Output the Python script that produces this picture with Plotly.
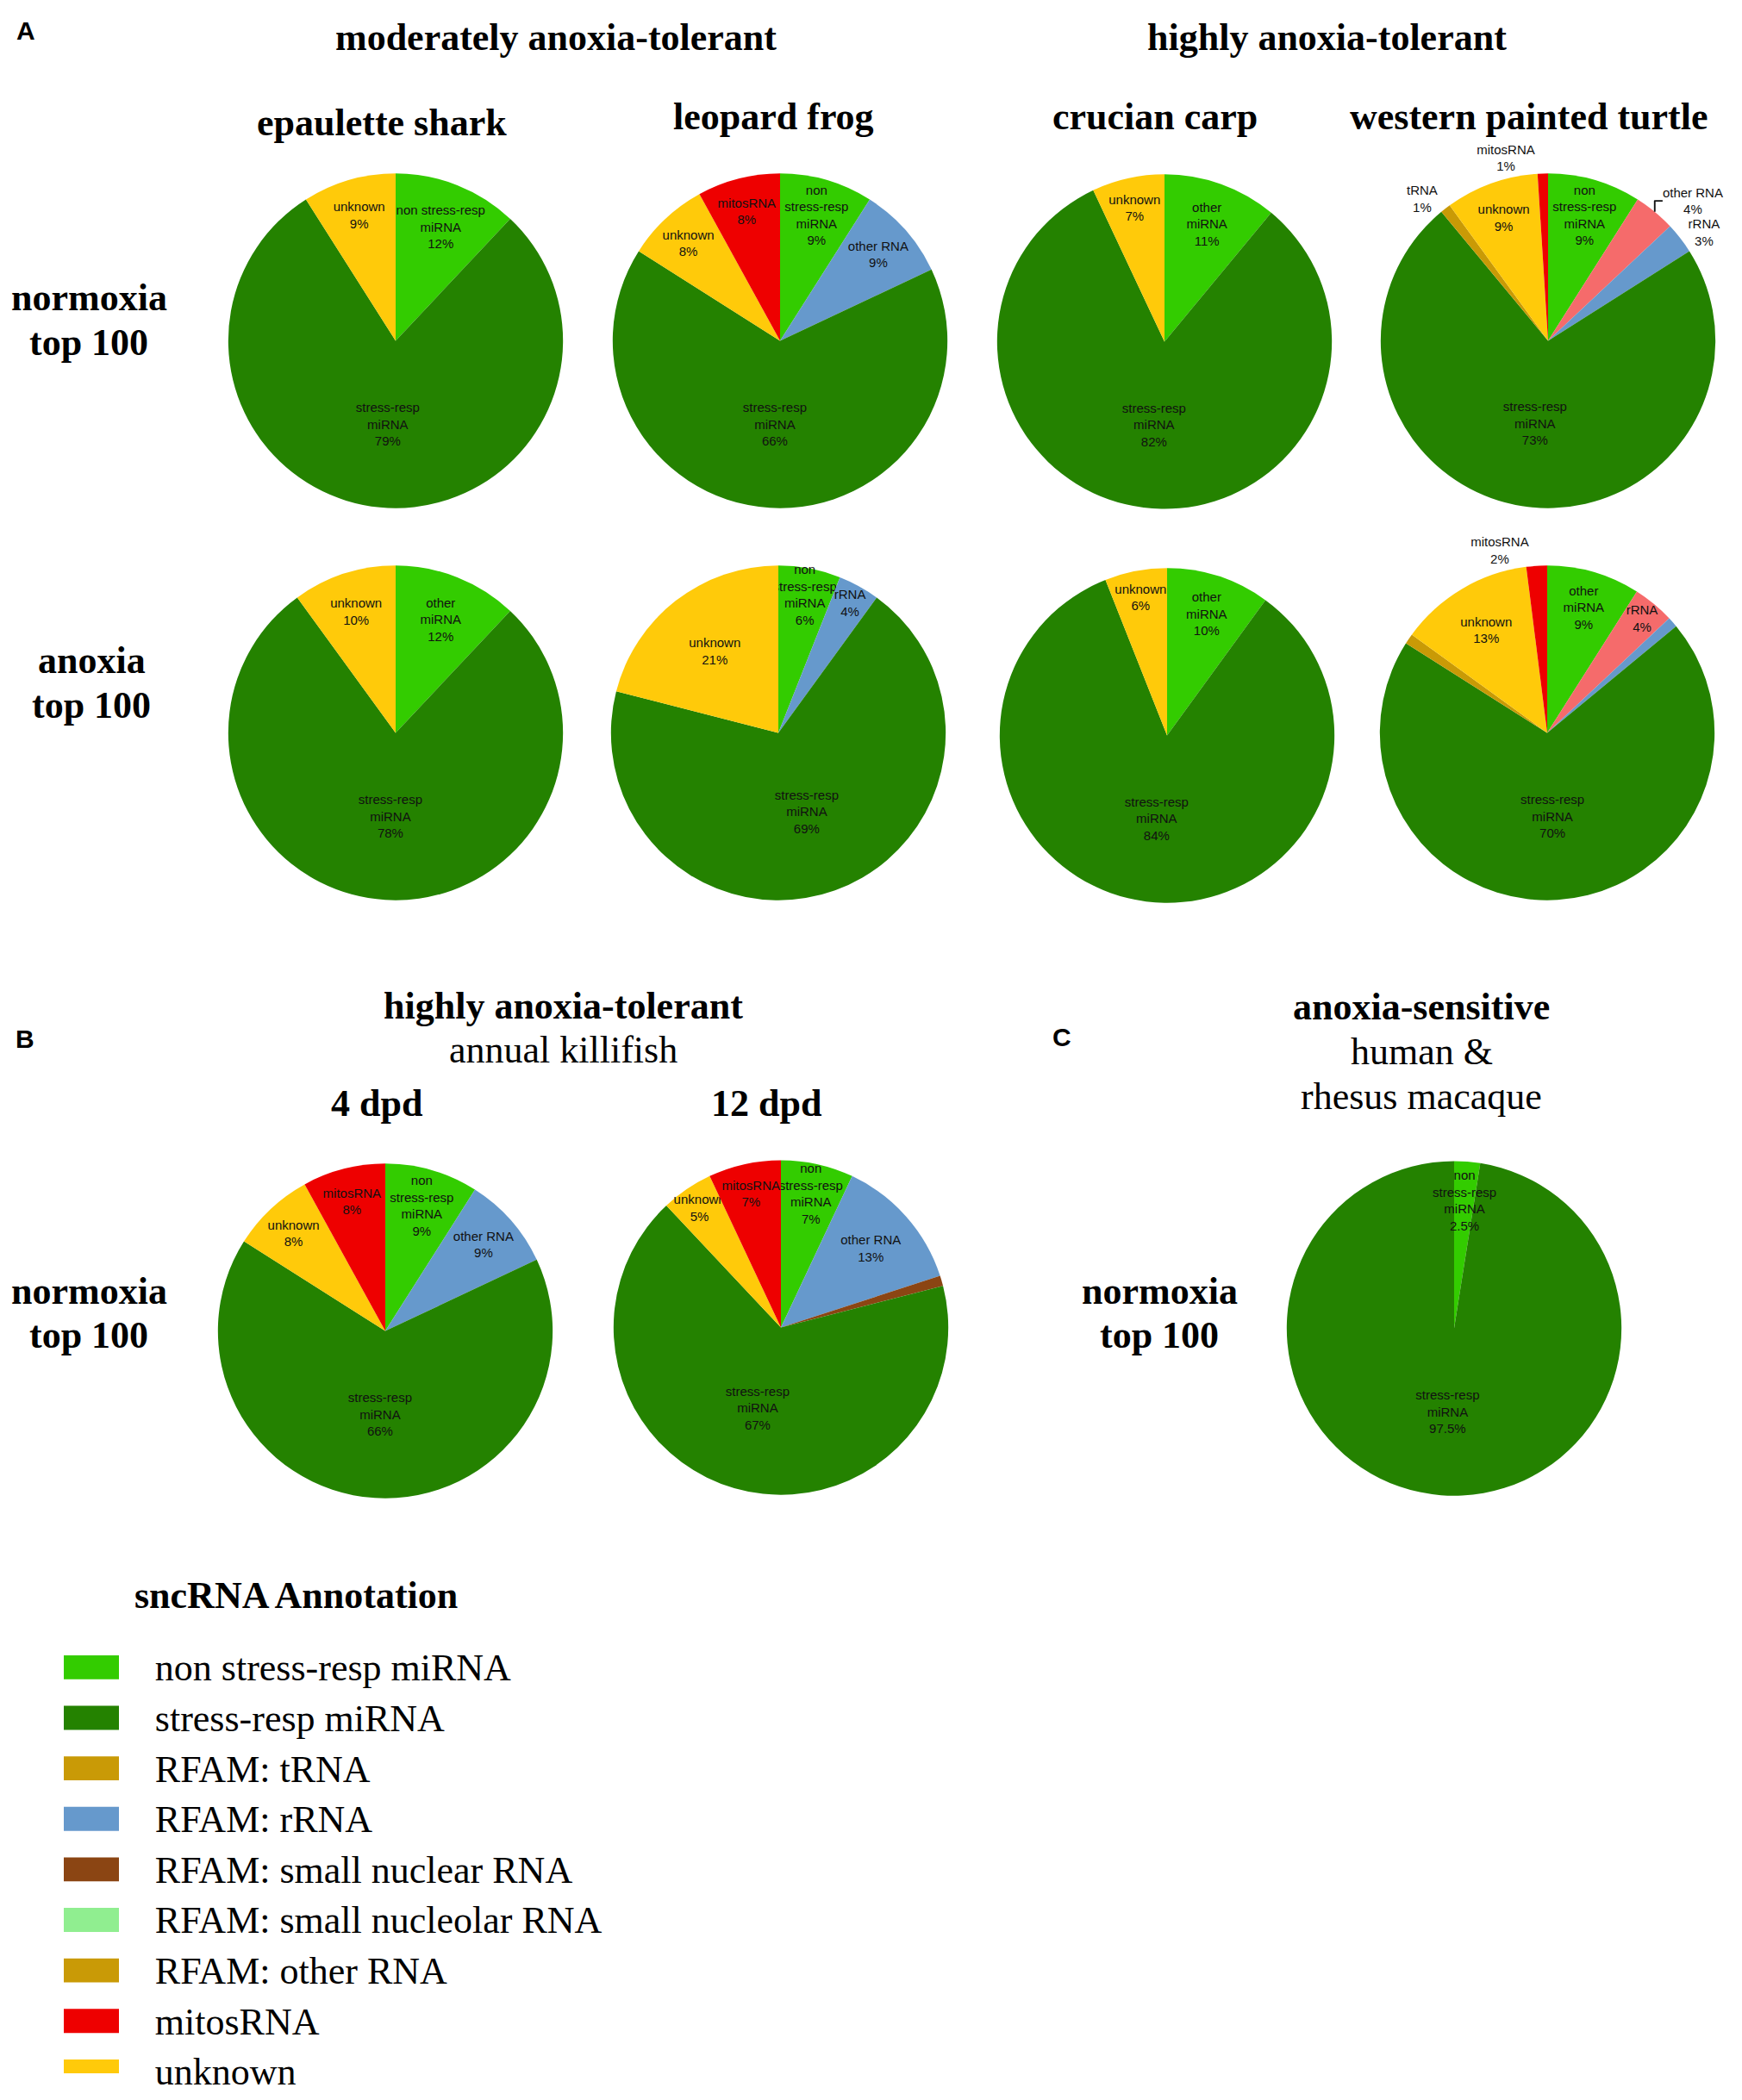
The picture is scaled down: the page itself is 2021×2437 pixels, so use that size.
import math
import plotly.graph_objects as go

# target page size; the html body keeps its default 8px margin
W, H = 2021, 2437
PAD = 8
FW, FH = W - 2 * PAD, H - 2 * PAD
# measured vertical drift of the rendered page (rendered ~ 8 + 0.991 * layout)
Y_OFF, Y_SCALE = 8, 0.991

# slice colours as they appear in the pies
LIGHT = "#33CC00"
DARK = "#248200"
GOLD = "#C99A06"
BLUE = "#6699CC"
BROWN = "#8B4513"
PALE = "#90EE90"
RED = "#EE0000"
YELLOW = "#FFCA0A"
PINK = "#F56B6B"

STRESS = "stress-resp<br>miRNA"
NON3 = "non<br>stress-resp<br>miRNA"

# panel A
shark_norm_values = [12, 79, 9]
shark_norm_names = ["non stress-resp<br>miRNA", STRESS, "unknown"]
shark_norm_colors = [LIGHT, DARK, YELLOW]

shark_anox_values = [12, 78, 10]
shark_anox_names = ["other<br>miRNA", STRESS, "unknown"]
shark_anox_colors = [LIGHT, DARK, YELLOW]

frog_norm_values = [9, 9, 66, 8, 8]
frog_norm_names = [NON3, "other RNA", STRESS, "unknown", "mitosRNA"]
frog_norm_colors = [LIGHT, BLUE, DARK, YELLOW, RED]

frog_anox_values = [6, 4, 69, 21]
frog_anox_names = [NON3, "rRNA", STRESS, "unknown"]
frog_anox_colors = [LIGHT, BLUE, DARK, YELLOW]

carp_norm_values = [11, 82, 7]
carp_norm_names = ["other<br>miRNA", STRESS, "unknown"]
carp_norm_colors = [LIGHT, DARK, YELLOW]

carp_anox_values = [10, 84, 6]
carp_anox_names = ["other<br>miRNA", STRESS, "unknown"]
carp_anox_colors = [LIGHT, DARK, YELLOW]

turtle_norm_values = [9, 4, 3, 73, 1, 9, 1]
turtle_norm_names = [NON3, "other RNA", "rRNA", STRESS, "tRNA", "unknown", "mitosRNA"]
turtle_norm_colors = [LIGHT, PINK, BLUE, DARK, GOLD, YELLOW, RED]

turtle_anox_values = [9, 4, 1, 70, 1, 13, 2]
turtle_anox_names = ["other<br>miRNA", "rRNA", "", STRESS, "", "unknown", "mitosRNA"]
turtle_anox_colors = [LIGHT, PINK, BLUE, DARK, GOLD, YELLOW, RED]

# panel B (annual killifish)
kf4_values = [9, 9, 66, 8, 8]
kf4_names = [NON3, "other RNA", STRESS, "unknown", "mitosRNA"]
kf4_colors = [LIGHT, BLUE, DARK, YELLOW, RED]

kf12_values = [7, 13, 1, 67, 5, 7]
kf12_names = [NON3, "other RNA", "", STRESS, "unknown", "mitosRNA"]
kf12_colors = [LIGHT, BLUE, BROWN, DARK, YELLOW, RED]

# panel C (human & rhesus macaque)
human_values = [2.5, 97.5]
human_names = [NON3, STRESS]
human_colors = [LIGHT, DARK]

legend_labels = [
    "non stress-resp miRNA", "stress-resp miRNA", "RFAM: tRNA", "RFAM: rRNA",
    "RFAM: small nuclear RNA", "RFAM: small nucleolar RNA", "RFAM: other RNA",
    "mitosRNA", "unknown",
]
legend_colors = [LIGHT, DARK, GOLD, BLUE, BROWN, PALE, GOLD, RED, YELLOW]

SERIF = "Liberation Serif, Times New Roman, serif"
SANS = "Liberation Sans, Arial, sans-serif"
R = 195


def xp(x):
    return (x - PAD) / FW


def yp(y):
    y = (y - Y_OFF) / Y_SCALE
    return min(1.0, 1 - (y - PAD) / FH)


fig = go.Figure()
anns = []


def add_pie(values, names, colors, cx, cy, outside=(), floating=()):
    # slices listed in `floating` get their label as an annotation placed
    # at the slice's mid angle (a narrow slice otherwise pushes it off the pie)
    text = []
    for i, (n, v) in enumerate(zip(names, values)):
        t = f"{n}<br>{v:g}%" if n else ""
        if i in floating:
            start = sum(values[:i]) / sum(values)
            mid = (start + v / sum(values) / 2) * 2 * math.pi
            anns.append(dict(
                x=xp(cx + 0.77 * R * math.sin(mid)), y=yp(cy - 0.77 * R * math.cos(mid)),
                xref="paper", yref="paper", showarrow=False, text=t,
                font=dict(family=SANS, size=15, color="#111111"),
                xanchor="center", yanchor="middle",
            ))
            t = ""
        text.append(t)
    pos = ["outside" if i in outside else "inside" for i in range(len(values))]
    fig.add_trace(go.Pie(
        values=values, text=text, textinfo="text", textposition=pos,
        marker=dict(colors=colors, line=dict(width=0)),
        sort=False, direction="clockwise", rotation=0,
        insidetextorientation="horizontal",
        textfont=dict(family=SANS, size=15, color="#111111"),
        domain=dict(x=[xp(cx - R), xp(cx + R)], y=[yp(cy + R), yp(cy - R)]),
        showlegend=False, hoverinfo="skip",
    ))


add_pie(shark_norm_values, shark_norm_names, shark_norm_colors, 459, 396)
add_pie(frog_norm_values, frog_norm_names, frog_norm_colors, 905, 396)
add_pie(carp_norm_values, carp_norm_names, carp_norm_colors, 1351, 397)
add_pie(turtle_norm_values, turtle_norm_names, turtle_norm_colors, 1796, 396, outside=(1, 2, 4, 6))
add_pie(shark_anox_values, shark_anox_names, shark_anox_colors, 459, 853)
add_pie(frog_anox_values, frog_anox_names, frog_anox_colors, 903, 853)
add_pie(carp_anox_values, carp_anox_names, carp_anox_colors, 1354, 856)
add_pie(turtle_anox_values, turtle_anox_names, turtle_anox_colors, 1795, 853, outside=(6,))
add_pie(kf4_values, kf4_names, kf4_colors, 447, 1550)
add_pie(kf12_values, kf12_names, kf12_colors, 906, 1546)
add_pie(human_values, human_names, human_colors, 1687, 1547, floating=(0,))

# legend swatches drawn as bars on a small hidden axis
fig.add_trace(go.Bar(
    x=[1] * len(legend_labels), y=legend_labels, orientation="h",
    marker=dict(color=legend_colors, line=dict(width=0)), width=0.476,
    xaxis="x", yaxis="y", showlegend=False, hoverinfo="skip",
))


def label(x, y, text, size=44, bold=True, family=SERIF, anchor="middle"):
    anns.append(dict(
        x=xp(x), y=yp(y), xref="paper", yref="paper", showarrow=False,
        text=f"<b>{text}</b>" if bold else text,
        font=dict(family=family, size=size, color="black"),
        xanchor="center", yanchor=anchor,
    ))


# panel letters
label(30, 35, "A", size=30, family=SANS)
label(29, 1210, "B", size=30, family=SANS)
label(1232, 1207, "C", size=30, family=SANS)

# panel A headings (the two top ones sit against the upper edge)
label(645, 0, "moderately anoxia-tolerant", anchor="top")
label(1539, 0, "highly anoxia-tolerant", anchor="top")
label(443, 142, "epaulette shark")
label(897, 135, "leopard frog")
label(1340, 135, "crucian carp")
label(1774, 135, "western painted turtle")
label(103, 346, "normoxia")
label(103, 398, "top 100")
label(106, 769, "anoxia")
label(106, 821, "top 100")

# panel B headings
label(653, 1171, "highly anoxia-tolerant")
label(653, 1223, "annual killifish", bold=False)
label(437, 1285, "4 dpd")
label(889, 1285, "12 dpd")
label(103, 1504, "normoxia")
label(103, 1555, "top 100")

# panel C headings
label(1649, 1172, "anoxia-sensitive")
label(1649, 1225, "human &amp;", bold=False)
label(1649, 1277, "rhesus macaque", bold=False)
label(1345, 1504, "normoxia")
label(1345, 1555, "top 100")

# legend title
label(343, 1858, "sncRNA Annotation")

# legend rows: first swatch centred at y=1942, last at y=2413
n_rows = len(legend_labels)
p_first, p_last = yp(1942), yp(2413)
per_row = (p_last - p_first) / (n_rows - 1)
d_top = p_first - 0.25 * per_row
d_bot = max(0.0, p_last + 0.25 * per_row)

fig.update_layout(
    width=FW, height=FH,
    margin=dict(l=0, r=0, t=0, b=0),
    paper_bgcolor="white", plot_bgcolor="white",
    annotations=anns,
    uniformtext=dict(minsize=15, mode="show"),
    xaxis=dict(domain=[xp(74), xp(138)], range=[0, 1], visible=False, fixedrange=True),
    yaxis=dict(
        domain=[d_bot, d_top],
        range=[(d_bot - p_first) / per_row, (d_top - p_first) / per_row], autorange=False,
        side="right", showgrid=False, zeroline=False, showline=False,
        ticks="outside", ticklen=32, tickcolor="rgba(0,0,0,0)",
        tickfont=dict(family=SERIF, size=44, color="black"),
    ),
)

fig.write_html("out.html", config={"displayModeBar": False})
